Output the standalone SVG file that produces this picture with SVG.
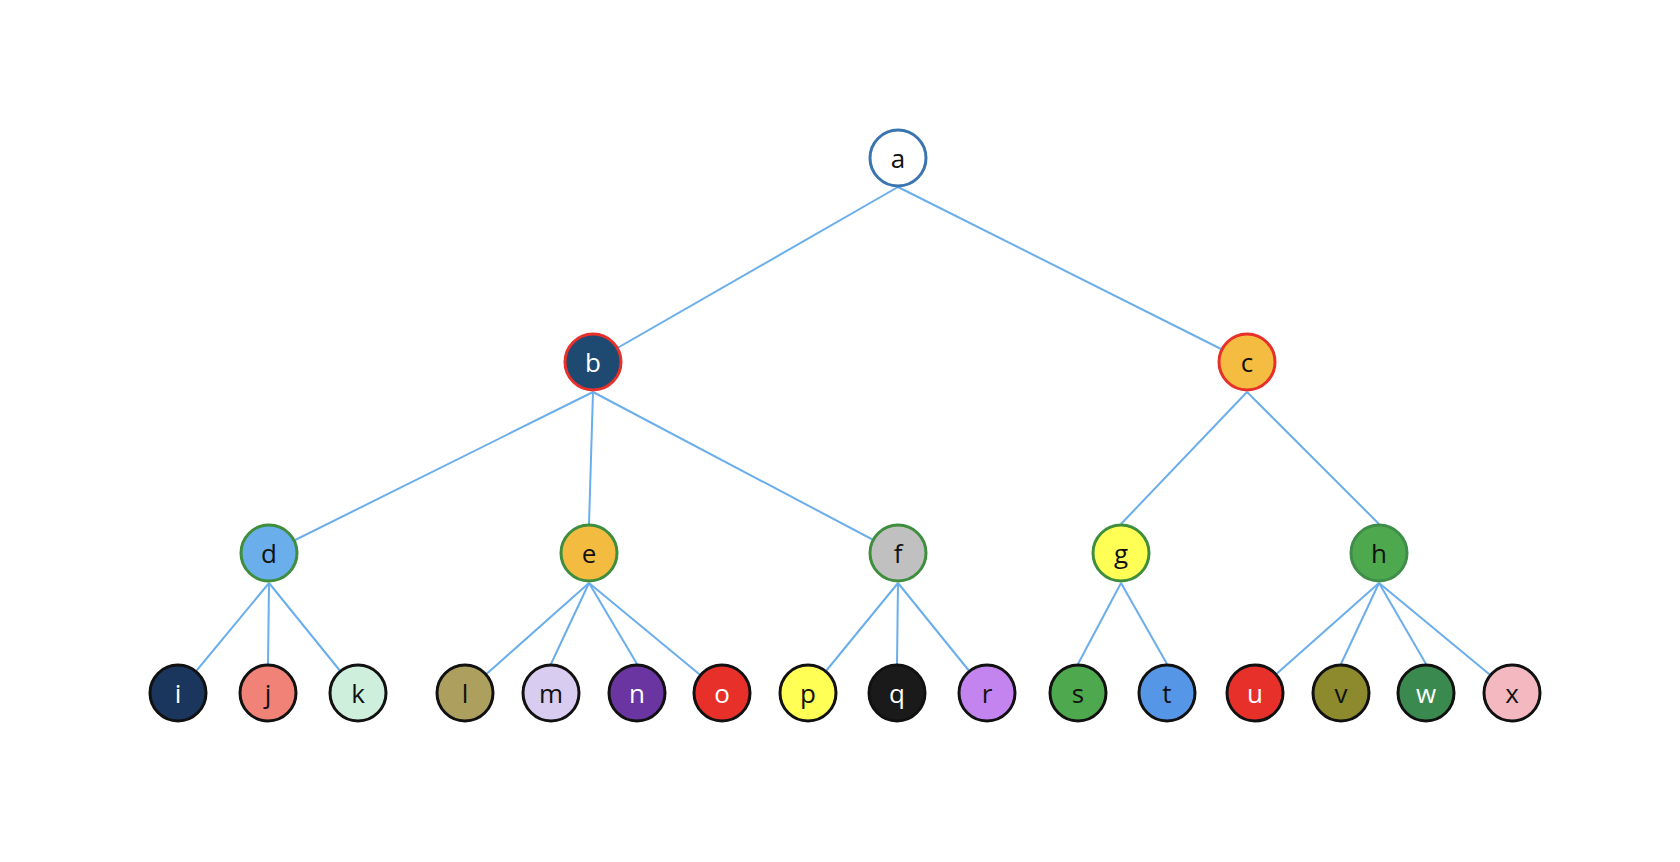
<svg xmlns="http://www.w3.org/2000/svg" width="1680" height="862" viewBox="0 0 1680 862">
  <style>
    .edge { stroke: #6aaeeb; stroke-width: 2; fill: none; }
    circle { stroke-width: 3; }
    .root { stroke: #3a75b0; }
    .l1 { stroke: #e8302a; }
    .l2 { stroke: #3e8e3e; }
    .leaf { stroke: #111111; }
    text { font-family: "Open Sans", "Liberation Sans", sans-serif; font-size: 26px; text-anchor: middle; fill: #111111; }
    text.w { fill: #ffffff; }
  </style>
  <rect width="1680" height="862" fill="#ffffff"/>

  <!-- tree edges: start at the parent's bottom point; end at the child's top point
       or run toward the child's centre (the circle covers the rest) -->
  <g id="edges">
    <line class="edge" x1="898" y1="187" x2="593" y2="362"/>
    <line class="edge" x1="898" y1="187" x2="1247" y2="362"/>
    <line class="edge" x1="593" y1="392" x2="269" y2="553"/>
    <line class="edge" x1="593" y1="392" x2="589" y2="524"/>
    <line class="edge" x1="593" y1="392" x2="898" y2="553"/>
    <line class="edge" x1="1247" y1="392" x2="1121" y2="524"/>
    <line class="edge" x1="1247" y1="392" x2="1379" y2="524"/>
    <line class="edge" x1="269" y1="583" x2="178" y2="693"/>
    <line class="edge" x1="269" y1="583" x2="268" y2="664"/>
    <line class="edge" x1="269" y1="583" x2="358" y2="693"/>
    <line class="edge" x1="589" y1="583" x2="465" y2="693"/>
    <line class="edge" x1="589" y1="583" x2="551" y2="664"/>
    <line class="edge" x1="589" y1="583" x2="637" y2="664"/>
    <line class="edge" x1="589" y1="583" x2="722" y2="693"/>
    <line class="edge" x1="898" y1="583" x2="808" y2="693"/>
    <line class="edge" x1="898" y1="583" x2="897" y2="664"/>
    <line class="edge" x1="898" y1="583" x2="987" y2="693"/>
    <line class="edge" x1="1121" y1="583" x2="1078" y2="664"/>
    <line class="edge" x1="1121" y1="583" x2="1167" y2="664"/>
    <line class="edge" x1="1379" y1="583" x2="1255" y2="693"/>
    <line class="edge" x1="1379" y1="583" x2="1341" y2="664"/>
    <line class="edge" x1="1379" y1="583" x2="1426" y2="664"/>
    <line class="edge" x1="1379" y1="583" x2="1512" y2="693"/>
  </g>

  <!-- level 0 -->
  <g id="node-a"><circle class="root" cx="898" cy="158" r="28" fill="#ffffff"/><text x="898" y="168">a</text></g>

  <!-- level 1 -->
  <g id="node-b"><circle class="l1" cx="593" cy="362" r="28" fill="#1e4a72"/><text class="w" x="593" y="372">b</text></g>
  <g id="node-c"><circle class="l1" cx="1247" cy="362" r="28" fill="#f5bc42"/><text x="1247" y="372">c</text></g>

  <!-- level 2 -->
  <g id="node-d"><circle class="l2" cx="269" cy="553" r="28" fill="#6aaeeb"/><text x="269" y="563">d</text></g>
  <g id="node-e"><circle class="l2" cx="589" cy="553" r="28" fill="#f3bc41"/><text x="589" y="563">e</text></g>
  <g id="node-f"><circle class="l2" cx="898" cy="553" r="28" fill="#c0c0c0"/><text x="898" y="563">f</text></g>
  <g id="node-g"><circle class="l2" cx="1121" cy="553" r="28" fill="#ffff55"/><text x="1121" y="563">g</text></g>
  <g id="node-h"><circle cx="1379" cy="553" r="28" fill="#4ea94e" stroke="#3e8e4a"/><text x="1379" y="563">h</text></g>

  <!-- leaves -->
  <g id="node-i"><circle class="leaf" cx="178" cy="693" r="28" fill="#1b365d"/><text class="w" x="178" y="703">i</text></g>
  <g id="node-j"><circle class="leaf" cx="268" cy="693" r="28" fill="#f08278"/><text x="268" y="703">j</text></g>
  <g id="node-k"><circle class="leaf" cx="358" cy="693" r="28" fill="#cfefdd"/><text x="358" y="703">k</text></g>
  <g id="node-l"><circle class="leaf" cx="465" cy="693" r="28" fill="#ad9f5e"/><text x="465" y="703">l</text></g>
  <g id="node-m"><circle class="leaf" cx="551" cy="693" r="28" fill="#d8ccf0"/><text x="551" y="703">m</text></g>
  <g id="node-n"><circle class="leaf" cx="637" cy="693" r="28" fill="#6a35a0"/><text class="w" x="637" y="703">n</text></g>
  <g id="node-o"><circle class="leaf" cx="722" cy="693" r="28" fill="#e8302a"/><text class="w" x="722" y="703">o</text></g>
  <g id="node-p"><circle class="leaf" cx="808" cy="693" r="28" fill="#ffff55"/><text x="808" y="703">p</text></g>
  <g id="node-q"><circle class="leaf" cx="897" cy="693" r="28" fill="#1a1a1a"/><text class="w" x="897" y="703">q</text></g>
  <g id="node-r"><circle class="leaf" cx="987" cy="693" r="28" fill="#c384f0"/><text x="987" y="703">r</text></g>
  <g id="node-s"><circle class="leaf" cx="1078" cy="693" r="28" fill="#4ea94e"/><text x="1078" y="703">s</text></g>
  <g id="node-t"><circle class="leaf" cx="1167" cy="693" r="28" fill="#5596e6"/><text x="1167" y="703">t</text></g>
  <g id="node-u"><circle class="leaf" cx="1255" cy="693" r="28" fill="#e8302a"/><text class="w" x="1255" y="703">u</text></g>
  <g id="node-v"><circle class="leaf" cx="1341" cy="693" r="28" fill="#8c8a2c"/><text x="1341" y="703">v</text></g>
  <g id="node-w"><circle class="leaf" cx="1426" cy="693" r="28" fill="#3a8a50"/><text class="w" x="1426" y="703">w</text></g>
  <g id="node-x"><circle class="leaf" cx="1512" cy="693" r="28" fill="#f4b8c0"/><text x="1512" y="703">x</text></g>
</svg>
